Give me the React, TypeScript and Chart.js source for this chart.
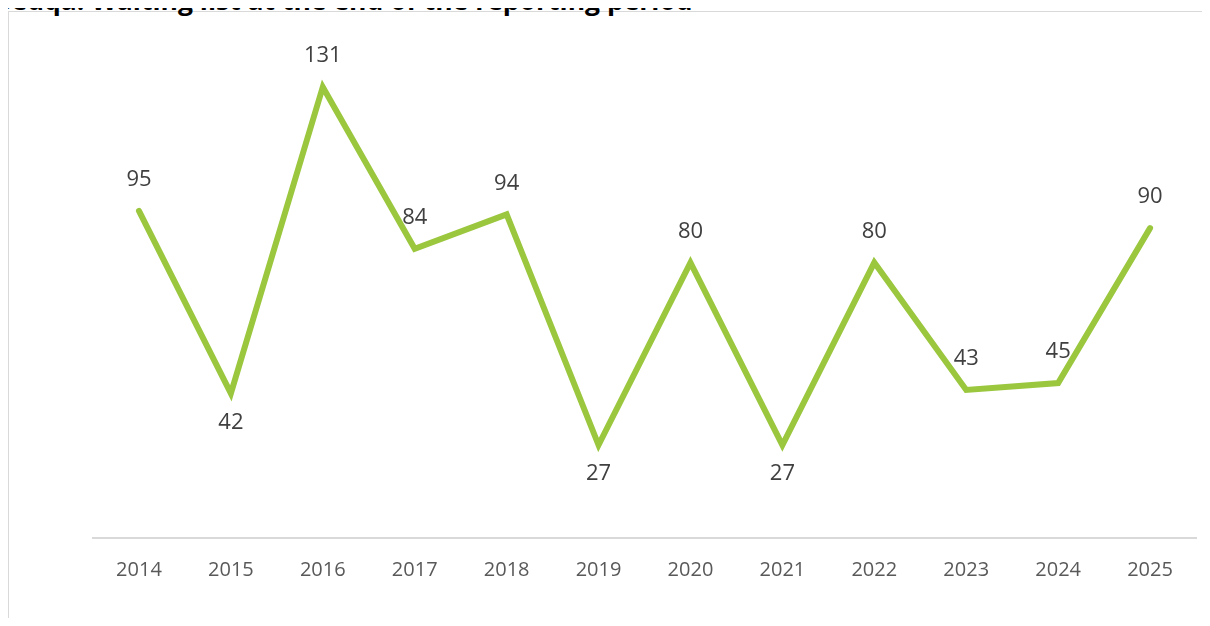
import React, { useEffect, useRef } from "react";
import { Chart, registerables } from "chart.js";

Chart.register(...registerables);

const titleText = "Sedqa: Waiting list at the end of the reporting period";
const years = ["2014", "2015", "2016", "2017", "2018", "2019", "2020", "2021", "2022", "2023", "2024", "2025"];
const waitingList = [95, 42, 131, 84, 94, 27, 80, 27, 80, 43, 45, 90];
const labelBelow = [false, true, false, false, false, true, false, true, false, false, false, false];

const labelPlugin = {
  id: "pointLabels",
  afterDatasetsDraw(chart: any) {
    const meta = chart.getDatasetMeta(0);
    const ctx = chart.ctx;
    ctx.save();
    ctx.font = "22px 'Open Sans'";
    ctx.fillStyle = "#404040";
    ctx.textAlign = "center";
    ctx.textBaseline = "middle";
    meta.data.forEach((pt: any, i: number) => {
      const dy = labelBelow[i] ? 29 : -31;
      ctx.fillText(String(waitingList[i]), pt.x, pt.y + dy);
    });
    ctx.restore();
  },
};

export default function App() {
  const ref = useRef<HTMLCanvasElement>(null);
  useEffect(() => {
    if (!ref.current) return;
    const chart = new Chart(ref.current, {
      type: "line",
      data: {
        labels: years,
        datasets: [
          {
            data: waitingList,
            borderColor: "#9BC73E",
            borderWidth: 6,
            pointRadius: 0,
            pointHoverRadius: 0,
            tension: 0,
            borderJoinStyle: "miter",
            borderCapStyle: "round",
            fill: false,
          },
        ],
      },
      options: {
        animation: false,
        responsive: false,
        maintainAspectRatio: false,
        layout: { padding: { left: 93, right: 14, top: 56, bottom: 0 } },
        plugins: {
          legend: { display: false },
          tooltip: { enabled: false },
          title: { display: false },
        },
        scales: {
          x: {
            offset: true,
            grid: { display: false, drawTicks: false },
            border: { display: true, color: "#D9D9D9", width: 2 },
            ticks: {
              color: "#595959",
              font: { family: "'Open Sans'", size: 20 },
              padding: 20,
              maxRotation: 0,
              autoSkip: false,
            },
            afterFit: (s: any) => {
              s.height = 88;
            },
          },
          y: {
            display: false,
            min: 0,
            max: 140,
          },
        },
      },
      plugins: [labelPlugin],
    });
    return () => chart.destroy();
  }, []);

  return (
    <div style={{ position: "relative", width: 1210, height: 626, margin: -8, overflow: "hidden", background: "#fff" }}>
      <style>{"html,body{overflow:hidden}"}</style>
      <div
        style={{
          position: "absolute",
          left: 7,
          top: 11,
          width: 1300,
          height: 700,
          borderLeft: "2px solid #D9D9D9",
          borderTop: "1.5px solid #D9D9D9",
        }}
      />
      <div
        style={{
          position: "absolute",
          left: -3,
          top: -10,
          fontFamily: "'Open Sans'",
          fontWeight: 700,
          fontSize: 26.5,
          lineHeight: "21px",
          color: "#000",
          whiteSpace: "nowrap",
        }}
      >
        {titleText}
      </div>
      <canvas ref={ref} width={1210} height={626} style={{ position: "absolute", left: 0, top: 0 }} />
    </div>
  );
}
